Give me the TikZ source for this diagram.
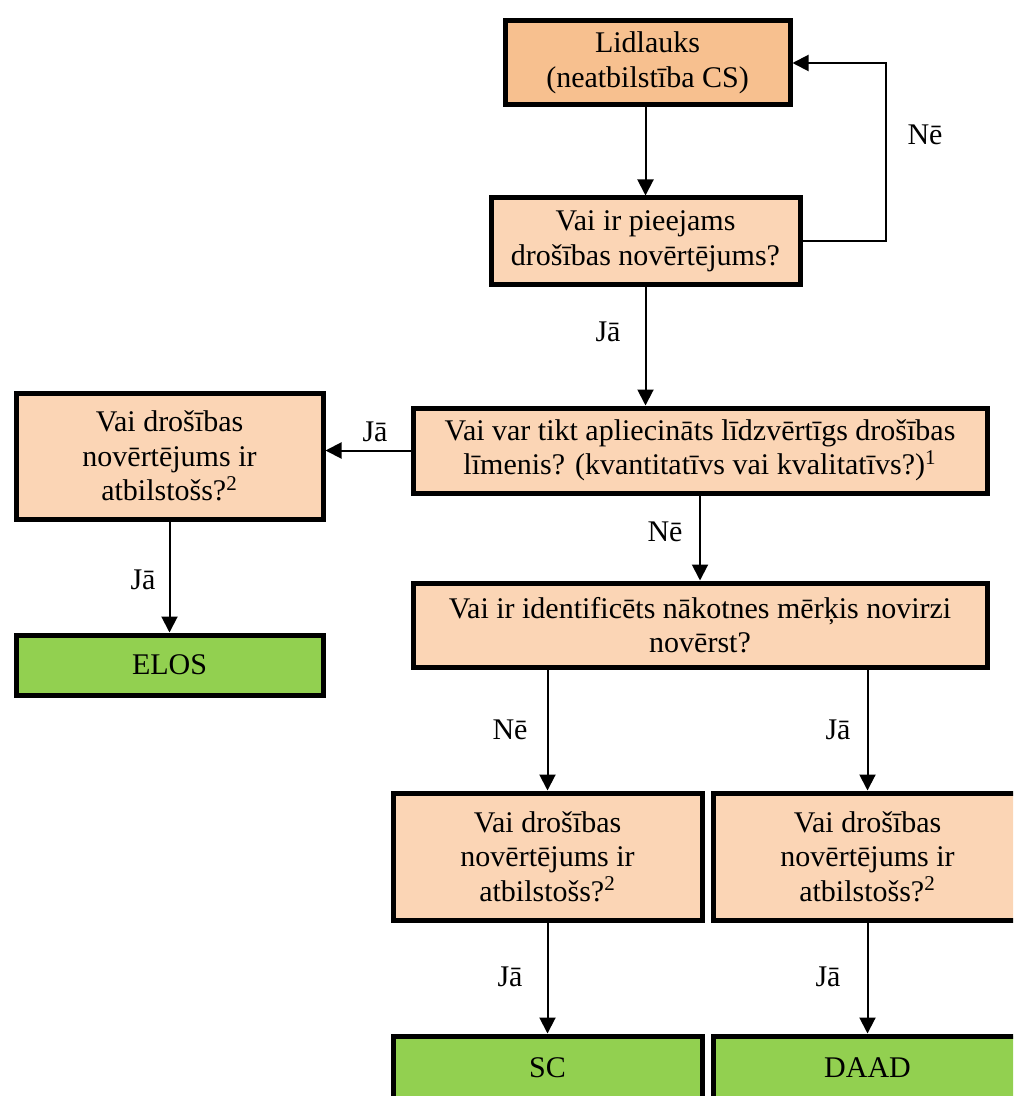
\documentclass[tikz,border=0pt]{standalone}
\usepackage{fontspec}
\setmainfont{Liberation Serif}
\usetikzlibrary{arrows.meta}
\definecolor{peach}{HTML}{FBD5B5}
\definecolor{darkpeach}{HTML}{F7C08F}
\definecolor{okgreen}{HTML}{92D050}

\begin{document}
\begin{tikzpicture}[x=0.5pt,y=-0.5pt]
\tikzstyle{qbox} = [
  shape=rectangle,
  draw=black,
  line width=2.5pt,
  fill=peach,
  align=center,
  inner sep=0pt,
  font=\fontsize{15}{17.25}\selectfont
]
\tikzstyle{endbox} = [
  qbox,
  fill=okgreen
]
\tikzstyle{conn} = [
  draw=black,
  line width=1pt,
  -{Triangle[length=8pt,width=8pt]}
]
\tikzstyle{lbl} = [
  font=\fontsize{15}{17.25}\selectfont,
  inner sep=0pt
]

\useasboundingbox (0,0) rectangle (1013,1096);
\clip (0,0) rectangle (1013,1096);

\node [qbox, fill=darkpeach, minimum width=142.5pt, minimum height=42pt] (start) at (647.5,63) {Lidlauks\\(neatbilstība CS)};
\node [qbox, minimum width=154.5pt, minimum height=43.5pt] (avail) at (645.5,241.5) {Vai ir pieejams\\drošības novērtējums?};
\node [qbox, minimum width=287pt, minimum height=42.5pt] (equiv) at (700,450.5) {Vai var tikt apliecināts līdzvērtīgs drošības\\līmenis? (kvantitatīvs vai kvalitatīvs?)\textsuperscript{1}};
\node [qbox, minimum width=153.5pt, minimum height=63pt] (okelos) at (169.5,456) {Vai drošības\\novērtējums ir\\atbilstošs?\textsuperscript{2}};
\node [endbox, minimum width=153.5pt, minimum height=30pt] (elos) at (169.5,665) {ELOS};
\node [qbox, minimum width=287pt, minimum height=42pt] (goal) at (700,625) {Vai ir identificēts nākotnes mērķis novirzi\\novērst?};
\node [qbox, minimum width=154.5pt, minimum height=63.5pt] (oksc) at (547.5,856.5) {Vai drošības\\novērtējums ir\\atbilstošs?\textsuperscript{2}};
\node [qbox, minimum width=154.5pt, minimum height=63.5pt] (okdaad) at (867.5,856.5) {Vai drošības\\novērtējums ir\\atbilstošs?\textsuperscript{2}};
\node [endbox, minimum width=154.5pt, minimum height=32pt] (sc) at (547.5,1068) {SC};
\node [endbox, minimum width=154.5pt, minimum height=32pt] (daad) at (867.5,1068) {DAAD};

\draw[conn] (avail.north |- start.south) -- (avail.north);
\draw[conn] (avail.east) -- ++(83,0) |- (start.east);
\draw[conn] (avail.south) -- (avail.south |- equiv.north);
\draw[conn] (equiv.west) -- (equiv.west -| okelos.east);
\draw[conn] (okelos) -- (elos);
\draw[conn] (equiv) -- (goal);
\draw[conn] (oksc.north |- goal.south) -- (oksc.north);
\draw[conn] (okdaad.north |- goal.south) -- (okdaad.north);
\draw[conn] (oksc) -- (sc);
\draw[conn] (okdaad) -- (daad);

\node [lbl] (n1) at (925,135) {Nē};
\node [lbl] (j1) at (608,332) {Jā};
\node [lbl] (j2) at (375,432) {Jā};
\node [lbl] (n2) at (665,532) {Nē};
\node [lbl] (j3) at (143,580) {Jā};
\node [lbl] (n3) at (510,730) {Nē};
\node [lbl] (j4) at (838,730) {Jā};
\node [lbl] (j5) at (510,977) {Jā};
\node [lbl] (j6) at (828,977) {Jā};

\end{tikzpicture}
\end{document}
